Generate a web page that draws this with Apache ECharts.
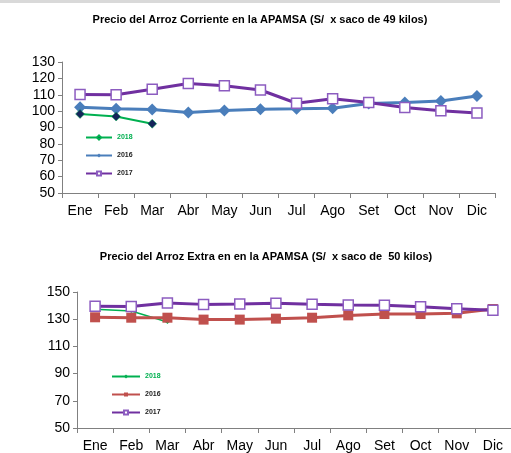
<!DOCTYPE html>
<html lang="es">
<head>
    <meta charset="UTF-8">
    <title>Precio del Arroz APAMSA</title>
    <script type="text/javascript" src="https://cdn.jsdelivr.net/npm/echarts@6/dist/echarts.min.js"></script>
    <style>
        html, body { margin: 0; padding: 0; background: #fff; }
        #container { width: 511px; height: 453px; }
    </style>
</head>
<body>
<div id="container"></div>
<script type="text/javascript">
    // meses
    var meses = ['Ene', 'Feb', 'Mar', 'Abr', 'May', 'Jun', 'Jul', 'Ago', 'Set', 'Oct', 'Nov', 'Dic'];

    // arroz corriente (S/ x saco de 49 kilos)
    var corriente2018 = [98.3, 96.7, 92.3];
    var corriente2016 = [102.4, 101.4, 101.0, 99.2, 100.4, 101.2, 101.4, 101.8, 104.6, 105.2, 106.2, 109.2];
    var corriente2017 = [110.2, 110.0, 113.3, 116.9, 115.5, 112.9, 104.8, 107.6, 105.2, 102.2, 100.2, 98.8];

    // arroz extra (S/ x saco de 50 kilos)
    var extra2018 = [137.3, 136.0, 128.0];
    var extra2016 = [131.4, 131.1, 131.1, 129.7, 129.7, 130.4, 131.1, 132.8, 133.8, 133.8, 134.3, 137.5];
    var extra2017 = [139.5, 139.3, 141.9, 140.9, 141.2, 141.7, 141.0, 140.4, 140.2, 139.2, 137.7, 136.5];

    var verde = '#00b050';
    var azul = '#4a7ebb';
    var morado = '#7030a0';
    var rojo = '#c0504d';
    var fuente = 'Liberation Sans, Arial, sans-serif';

    var myChart = echarts.init(document.getElementById('container'));

    function ejeX(gridIndex) {
        return {
            type: 'category',
            gridIndex: gridIndex,
            data: meses,
            boundaryGap: true,
            axisLine: {lineStyle: {color: '#808080', width: 1}},
            axisTick: {show: true, alignWithLabel: false, length: 5, lineStyle: {color: '#808080'}},
            axisLabel: {color: '#000', fontSize: 14, fontFamily: fuente, margin: 11, interval: 0},
            splitLine: {show: false}
        };
    }

    function ejeY(gridIndex, min, max, interval) {
        return {
            type: 'value',
            gridIndex: gridIndex,
            min: min,
            max: max,
            interval: interval,
            axisLine: {show: true, lineStyle: {color: '#808080', width: 1}},
            axisTick: {show: true, length: 4, lineStyle: {color: '#808080'}},
            axisLabel: {color: '#000', fontSize: 14, fontFamily: fuente, margin: 7},
            splitLine: {show: false}
        };
    }

    var leyendaTexto = {fontSize: 7, fontWeight: 'bold', color: '#222', fontFamily: fuente};

    option = {
        animation: false,
        backgroundColor: '#fff',
        graphic: [
            {type: 'rect', shape: {x: 0, y: 0, width: 500, height: 3}, style: {fill: '#d9d9d9'}}
        ],
        title: [
            {
                text: 'Precio del Arroz Corriente en la APAMSA (S/  x saco de 49 kilos)',
                left: 255, top: 9, textAlign: 'center',
                textStyle: {fontSize: 11, fontWeight: 'bold', color: '#000', fontFamily: fuente}
            },
            {
                text: 'Precio del Arroz Extra en en la APAMSA (S/  x saco de  50 kilos)',
                left: 261, top: 246, textAlign: 'center',
                textStyle: {fontSize: 11, fontWeight: 'bold', color: '#000', fontFamily: fuente}
            }
        ],
        legend: [
            {
                orient: 'vertical', left: 80, top: 129, itemGap: 11,
                itemWidth: 26, itemHeight: 5,
                textStyle: leyendaTexto,
                data: [
                    {name: '2018 ', textStyle: {color: verde}},
                    {name: '2016 '},
                    {name: '2017 '}
                ]
            },
            {
                orient: 'vertical', left: 106, top: 368, itemGap: 11,
                itemWidth: 28, itemHeight: 5,
                textStyle: leyendaTexto,
                data: [
                    {name: '2018', textStyle: {color: verde}},
                    {name: '2016'},
                    {name: '2017'}
                ]
            }
        ],
        grid: [
            {left: 62, right: 16, top: 62, height: 131, containLabel: false},
            {left: 77, right: -3, top: 292, height: 136, containLabel: false}
        ],
        xAxis: [ejeX(0), ejeX(1)],
        yAxis: [ejeY(0, 50, 130, 10), ejeY(1, 50, 150, 20)],
        series: [
            {
                name: '2016 ', type: 'line', xAxisIndex: 0, yAxisIndex: 0,
                data: corriente2016,
                symbol: 'diamond', symbolSize: 12,
                lineStyle: {color: azul, width: 3},
                itemStyle: {color: azul}
            },
            {
                name: '2017 ', type: 'line', xAxisIndex: 0, yAxisIndex: 0,
                data: corriente2017,
                symbol: 'rect', symbolSize: 10,
                lineStyle: {color: morado, width: 3},
                itemStyle: {color: '#fff', borderColor: '#8c5cc0', borderWidth: 1.5}
            },
            {
                name: '2018 ', type: 'line', xAxisIndex: 0, yAxisIndex: 0,
                data: corriente2018,
                symbol: 'diamond', symbolSize: 9,
                lineStyle: {color: verde, width: 2},
                itemStyle: {color: '#14255a', borderColor: verde, borderWidth: 0.5}
            },
            {
                name: '2018', type: 'line', xAxisIndex: 1, yAxisIndex: 1,
                data: extra2018,
                symbol: 'diamond', symbolSize: 4,
                lineStyle: {color: verde, width: 1.5},
                itemStyle: {color: verde}
            },
            {
                name: '2016', type: 'line', xAxisIndex: 1, yAxisIndex: 1,
                data: extra2016,
                symbol: 'rect', symbolSize: 10,
                lineStyle: {color: rojo, width: 3},
                itemStyle: {color: rojo}
            },
            {
                name: '2017', type: 'line', xAxisIndex: 1, yAxisIndex: 1,
                data: extra2017,
                symbol: 'rect', symbolSize: 10,
                lineStyle: {color: morado, width: 3},
                itemStyle: {color: '#fff', borderColor: '#8c5cc0', borderWidth: 1.5}
            }
        ]
    };

    if (option && typeof option === "object") {
        myChart.setOption(option, true);
    }
</script>
</body>
</html>
